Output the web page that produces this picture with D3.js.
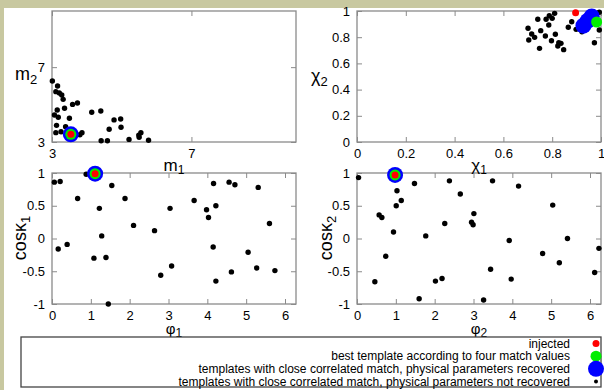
<!DOCTYPE html>
<meta charset="utf-8">
<style>
  body { margin: 0; background: #c8c8a0; }
  svg { display: block; font-family: "Liberation Sans", Arial, sans-serif; }
  .frame { fill: none; stroke: #8a8a8a; stroke-width: 1.3px; }
  .axis line { stroke: #8a8a8a; stroke-width: 1px; }
  .axis path { display: none; }
  .axis text { font-size: 13px; fill: #000; font-family: "Liberation Sans", Arial, sans-serif; }
</style>
<body>
<div id="chart"></div>
<script src="https://cdnjs.cloudflare.com/ajax/libs/d3/7.8.5/d3.min.js"></script>
<script>
// black dots: templates with close correlated match, parameters not recovered
var massPoints = [[3.01,6.26],[3.16,5.99],[3.11,5.69],[3.21,5.62],[3.28,5.51],[3.32,5.28],
  [3.07,4.44],[3.15,4.71],[3.18,4.32],[3.36,4.80],[3.50,4.27],[3.59,5.01],[3.73,5.08],
  [3.13,3.89],[3.39,3.82],[3.11,3.50],[3.26,3.55],[3.86,3.50],[3.80,3.39],[4.14,4.59],
  [4.40,4.66],[4.64,3.68],[4.78,4.18],[4.97,4.23],[4.98,3.79],[4.41,3.07],[4.59,3.07],
  [5.21,3.14],[5.49,3.37],[5.55,3.50],[5.50,3.25],[5.77,3.09]];
var spinPoints = [[0.701,0.868],[0.716,0.824],[0.728,0.799],[0.704,0.779],[0.741,0.937],
  [0.753,0.850],[0.748,0.715],[0.772,0.809],[0.775,0.937],[0.786,0.893],[0.788,0.964],
  [0.800,0.944],[0.810,0.982],[0.813,0.822],[0.797,0.773],[0.827,0.758],[0.823,0.733],
  [0.836,0.753],[0.847,0.705],[0.866,0.876],[0.880,0.918],[0.898,0.860],[0.922,0.842],
  [0.973,0.758],[0.993,0.855],[0.993,0.990]];
var angle1Points = [[0.06,0.86],[0.21,0.87],[0.16,-0.16],[0.39,-0.09],[0.66,0.61],[0.88,0.98],
  [1.08,-0.30],[1.22,0.46],[1.28,0.04],[1.39,-0.29],[1.54,0.81],[1.45,-1.0],[1.88,0.61],
  [2.10,0.20],[2.64,0.12],[2.80,-0.56],[3.04,0.46],[3.08,-0.42],[3.66,0.58],[3.98,0.44],
  [4.03,0.32],[4.16,0.84],[4.15,-0.13],[4.22,0.50],[4.22,-0.65],[4.56,0.86],[4.71,0.82],
  [4.62,-0.51],[5.05,-0.21],[5.27,-0.45],[5.31,0.78],[5.60,0.23],[5.74,-0.49]];
var angle2Points = [[0.04,0.93],[0.46,-0.66],[0.57,0.36],[0.64,0.32],[0.74,-0.27],[0.94,0.10],
  [1.03,0.73],[1.01,0.50],[1.14,0.58],[1.48,0.84],[1.60,-0.92],[1.77,0.04],[2.02,-0.65],
  [2.19,-0.61],[2.26,0.23],[2.38,0.88],[2.66,0.68],[2.95,0.25],[2.99,0.21],[3.01,0.38],
  [3.26,-0.94],[3.44,-0.47],[3.49,0.88],[3.92,-0.03],[3.97,-0.62],[4.16,0.80],[4.78,-0.23],
  [5.04,0.51],[5.21,-0.37],[5.42,0.00],[6.12,-0.52],[6.23,-0.15]];

// injected / best / recovered, one pair per panel
var injected = [[3.54,3.41],[0.896,0.987],[1.11,0.99],[0.98,0.97]];
var best = [[3.54,3.41],[0.982,0.916],[1.11,0.99],[0.98,0.97]];
var recovered = [
  [[3.54,3.41]],
  [[0.928,0.888],[0.945,0.925],[0.962,0.958]],
  [[1.11,0.99]],
  [[0.98,0.97]]];

var legendLabels = ["injected",
  "best template according to four match values",
  "templates with close correlated match, physical parameters recovered",
  "templates with close correlated match, physical parameters not recovered"];

var TWO_PI = 2 * Math.PI;
var panels = [
  {x: [52, 296], y: [11, 142], xd: [3, 10], yd: [3, 10], xt: [3, 7], yt: [3, 7],
   pts: massPoints, xl: ["m", "1"], yl: ["m", "2"], ylPos: [15, 80], rot: false, xlSize: 17},
  {x: [357, 601], y: [11, 142], xd: [0, 1], yd: [0, 1], xt: [0, 0.2, 0.4, 0.6, 0.8, 1], yt: [0, 0.2, 0.4, 0.6, 0.8, 1],
   pts: spinPoints, xl: ["\u03c7", "1"], yl: ["\u03c7", "2"], ylPos: [311, 82], rot: false, xlSize: 17},
  {x: [52, 296], y: [173, 304], xd: [0, TWO_PI], yd: [-1, 1], xt: [0, 1, 2, 3, 4, 5, 6], yt: [-1, -0.5, 0, 0.5, 1],
   pts: angle1Points, xl: ["\u03c6", "1"], yl: ["cos\u03ba", "1"], ylPos: [26, 238], rot: true, xlSize: 15},
  {x: [357, 601], y: [173, 304], xd: [0, TWO_PI], yd: [-1, 1], xt: [0, 1, 2, 3, 4, 5, 6], yt: [-1, -0.5, 0, 0.5, 1],
   pts: angle2Points, xl: ["\u03c6", "2"], yl: ["cos\u03ba", "2"], ylPos: [332, 238], rot: true, xlSize: 15}
];

var fmt = function(v) { return String(+v.toFixed(1)); };

var svg = d3.select("#chart").append("svg").attr("width", 604).attr("height", 390);
svg.append("rect").attr("width", 604).attr("height", 390).attr("fill", "#c8c8a0");
svg.append("rect").attr("x", 4).attr("y", 8).attr("width", 600).attr("height", 382).attr("fill", "#fff");

var labels = svg.append("g");

panels.forEach(function(p, i) {
  var x = d3.scaleLinear().domain(p.xd).range(p.x);
  var y = d3.scaleLinear().domain(p.yd).range([p.y[1], p.y[0]]);
  var g = svg.append("g");

  g.append("g").attr("class", "axis").attr("transform", "translate(0," + p.y[1] + ")")
    .call(d3.axisBottom(x).tickValues(p.xt).tickSize(-5).tickPadding(7).tickFormat(fmt));
  g.append("g").attr("class", "axis").attr("transform", "translate(0," + p.y[0] + ")")
    .call(d3.axisTop(x).tickValues(p.xt).tickSize(-5).tickFormat(""));
  g.append("g").attr("class", "axis").attr("transform", "translate(" + p.x[0] + ",0)")
    .call(d3.axisLeft(y).tickValues(p.yt).tickSize(-5).tickPadding(7).tickFormat(fmt));
  g.append("g").attr("class", "axis").attr("transform", "translate(" + p.x[1] + ",0)")
    .call(d3.axisRight(y).tickValues(p.yt).tickSize(-5).tickFormat(""));
  g.selectAll(".axis").attr("font-size", null).attr("font-family", null);

  g.append("rect").attr("class", "frame")
    .attr("x", p.x[0]).attr("y", p.y[0])
    .attr("width", p.x[1] - p.x[0]).attr("height", p.y[1] - p.y[0]);

  g.append("g").selectAll("circle").data(p.pts).enter().append("circle")
    .attr("cx", function(d) { return x(d[0]); })
    .attr("cy", function(d) { return y(d[1]); })
    .attr("r", 2.7).attr("fill", "#000");
  g.append("g").selectAll("circle").data(recovered[i]).enter().append("circle")
    .attr("cx", function(d) { return x(d[0]); })
    .attr("cy", function(d) { return y(d[1]); })
    .attr("r", 8).attr("fill", "#0000ff");
  g.append("circle").attr("cx", x(best[i][0])).attr("cy", y(best[i][1])).attr("r", 5.5).attr("fill", "#00ee00");
  g.append("circle").attr("cx", x(injected[i][0])).attr("cy", y(injected[i][1])).attr("r", 3.5).attr("fill", "#ff0000");

  // x label
  var xl = labels.append("text").attr("x", (p.x[0] + p.x[1]) / 2).attr("y", p.y[1] + (p.rot ? 30 : 29))
    .attr("text-anchor", "middle").attr("font-size", p.xlSize);
  xl.append("tspan").text(p.xl[0]);
  xl.append("tspan").attr("font-size", 12).attr("dy", 3).text(p.xl[1]);

  // y label
  var yl = labels.append("text").attr("font-size", 18);
  if (p.rot) {
    yl.attr("text-anchor", "middle")
      .attr("transform", "translate(" + p.ylPos[0] + "," + p.ylPos[1] + ") rotate(-90)");
  } else {
    yl.attr("x", p.ylPos[0]).attr("y", p.ylPos[1]);
  }
  yl.append("tspan").text(p.yl[0]);
  yl.append("tspan").attr("font-size", 13).attr("dy", 4).text(p.yl[1]);
});
labels.raise();

// legend
var lg = svg.append("g");
lg.append("rect").attr("x", 21).attr("y", 337).attr("width", 580).attr("height", 50)
  .attr("fill", "#fff").attr("stroke", "#444").attr("stroke-width", 1.3);
var rowY = d3.scalePoint().domain(d3.range(legendLabels.length)).range([343.5, 381.5]);
var legendMarks = [{r: 3.5, c: "#ff0000"}, {r: 5.5, c: "#00ee00"}, {r: 8, c: "#0000ff"}, {r: 2, c: "#000"}];
lg.selectAll("text").data(legendLabels).enter().append("text")
  .attr("x", 570).attr("y", function(d, i) { return rowY(i) + 4.3; })
  .attr("text-anchor", "end").attr("font-size", 12).text(function(d) { return d; });
lg.selectAll("circle").data(legendMarks).enter().append("circle")
  .attr("cx", 596).attr("cy", function(d, i) { return rowY(i); })
  .attr("r", function(d) { return d.r; }).attr("fill", function(d) { return d.c; });
</script>
</body>
